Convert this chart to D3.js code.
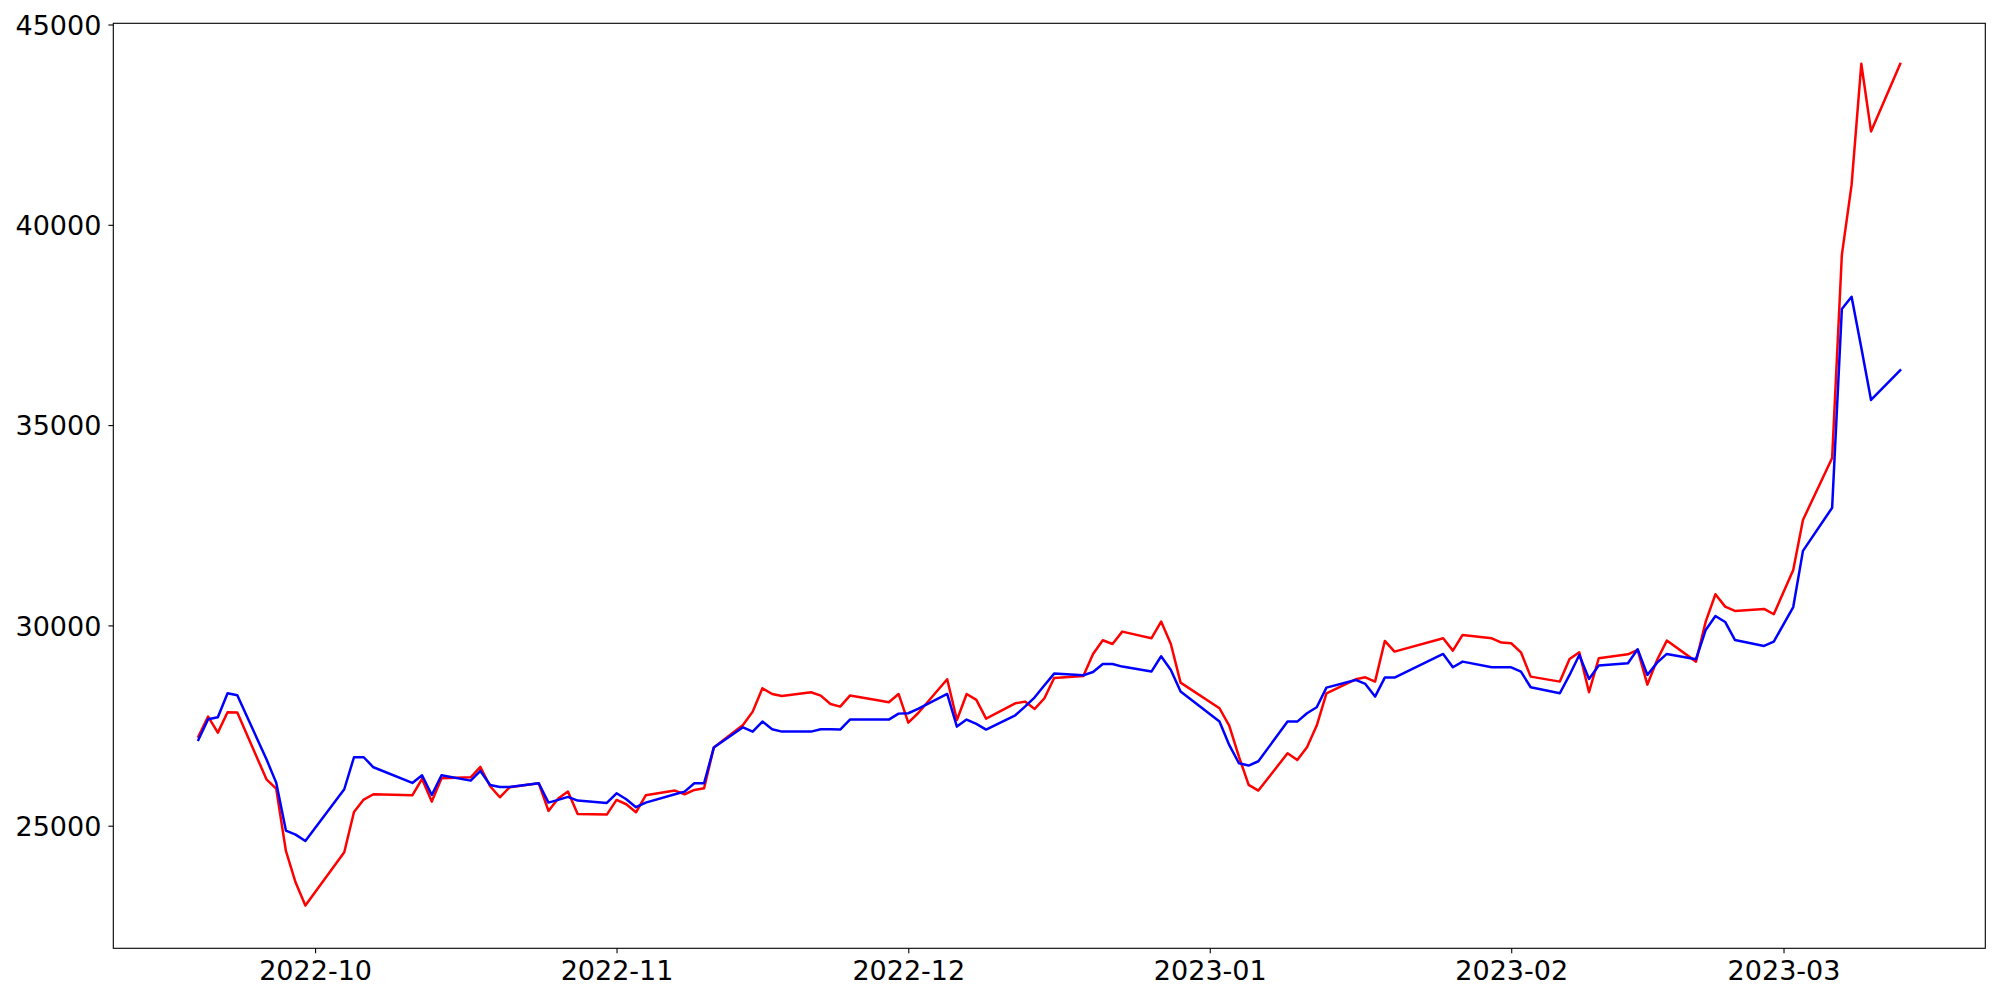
<!DOCTYPE html>
<html>
<head>
<meta charset="utf-8">
<script src="https://cdn.jsdelivr.net/npm/d3@7"></script>
<style>
  body { margin: 0; background: #fff; }
  svg text { font-family: "DejaVu Sans", sans-serif; }
</style>
</head>
<body>
<svg id="chart" width="2000" height="1000"></svg>
<script>
// trading days (Korean calendar, holidays skipped)
var dates = [
  "2022-09-19","2022-09-20","2022-09-21","2022-09-22","2022-09-23",
  "2022-09-26","2022-09-27","2022-09-28","2022-09-29","2022-09-30",
  "2022-10-04","2022-10-05","2022-10-06","2022-10-07",
  "2022-10-11","2022-10-12","2022-10-13","2022-10-14",
  "2022-10-17","2022-10-18","2022-10-19","2022-10-20","2022-10-21",
  "2022-10-24","2022-10-25","2022-10-26","2022-10-27","2022-10-28",
  "2022-10-31","2022-11-01","2022-11-02","2022-11-03","2022-11-04",
  "2022-11-07","2022-11-08","2022-11-09","2022-11-10","2022-11-11",
  "2022-11-14","2022-11-15","2022-11-16","2022-11-17","2022-11-18",
  "2022-11-21","2022-11-22","2022-11-23","2022-11-24","2022-11-25",
  "2022-11-28","2022-11-29","2022-11-30","2022-12-01","2022-12-02",
  "2022-12-05","2022-12-06","2022-12-07","2022-12-08","2022-12-09",
  "2022-12-12","2022-12-13","2022-12-14","2022-12-15","2022-12-16",
  "2022-12-19","2022-12-20","2022-12-21","2022-12-22","2022-12-23",
  "2022-12-26","2022-12-27","2022-12-28","2022-12-29",
  "2023-01-02","2023-01-03","2023-01-04","2023-01-05","2023-01-06",
  "2023-01-09","2023-01-10","2023-01-11","2023-01-12","2023-01-13",
  "2023-01-16","2023-01-17","2023-01-18","2023-01-19","2023-01-20",
  "2023-01-25","2023-01-26","2023-01-27",
  "2023-01-30","2023-01-31","2023-02-01","2023-02-02","2023-02-03",
  "2023-02-06","2023-02-07","2023-02-08","2023-02-09","2023-02-10",
  "2023-02-13","2023-02-14","2023-02-15","2023-02-16","2023-02-17",
  "2023-02-20","2023-02-21","2023-02-22","2023-02-23","2023-02-24",
  "2023-02-27","2023-02-28","2023-03-02","2023-03-03",
  "2023-03-06","2023-03-07","2023-03-08","2023-03-09","2023-03-10",
  "2023-03-13"
];

var redValues = [
  27224,27724,27324,27832,27823, 26159,25926,24370,23580,23006,
  24337,25344,25652,25785, 25760,26168,25602,26184,
  26209,26467,25985,25710,25960, 26060,25369,25677,25852,25294,
  25278,25644,25536,25336,25760, 25877,25785,25893,25935,26950,
  27516,27848,28431,28289,28239, 28331,28248,28040,27973,28248,
  28123,28081,28289,27574,27807, 28655,27640,28289,28140,27674,
  28056,28098,27915,28181,28689, 28739,29288,29629,29537,29845,
  29679,30095,29537,28572,
  27932,27499,26725,26018,25877, 26808,26642,26958,27499,28306,
  28655,28705,28597,29612,29346, 29679,29371,29762,
  29679,29571,29554,29329,28722, 28597,29163,29329,28331,29180,
  29279,29388,28522,29138,29621, 29096,30095,30777,30469,30361,
  30411,30278,31384,32633,
  34178,39251,40996,44019,42331, 44019
];

var blueValues = [
  27141,27657,27707,28306,28256, 26659,26076,24878,24778,24620,
  25910,26709,26709,26459, 26068,26259,25768,26259,
  26126,26367,26018,25968,25968, 26060,25577,25644,25719,25627,
  25569,25810,25660,25461,25577, 25785,25852,26060,26060,26950,
  27457,27349,27599,27407,27349, 27349,27407,27407,27399,27649,
  27649,27649,27798,27807,27915, 28289,27474,27649,27541,27399,
  27757,27973,28206,28506,28797, 28755,28838,29038,29038,28972,
  28847,29230,28888,28348,
  27599,27016,26559,26501,26609, 27599,27599,27807,27957,28447,
  28639,28539,28223,28697,28697, 29288,28955,29096,
  28955,28955,28955,28847,28456, 28306,28764,29263,28664,28997,
  29055,29404,28764,29071,29288, 29155,29887,30236,30086,29637,
  29487,29596,30459,31860,
  32938,37897,38202,36933,35627, 36371
];

var yTicks = [25000, 30000, 35000, 40000, 45000];
var yDomain = [21940, 45030];

var margin = {left: 113.3, top: 23.3, right: 14.7, bottom: 51.7};
var width = 2000 - margin.left - margin.right;
var height = 1000 - margin.top - margin.bottom;

var parse = d3.utcParse("%Y-%m-%d");
var days = dates.map(parse);

// 5% padding on the time axis, like the default autoscale
var ext = d3.extent(days);
var pad = (ext[1] - ext[0]) * 0.05;
var x = d3.scaleUtc()
    .domain([new Date(+ext[0] - pad), new Date(+ext[1] + pad)])
    .range([0, width]);

var y = d3.scaleLinear()
    .domain(yDomain)
    .range([height, 0]);

var svg = d3.select("#chart");
var g = svg.append("g")
    .attr("transform", "translate(" + margin.left + "," + margin.top + ")");

var line = function (vals) {
    return d3.line()
        .x(function (d, i) { return x(days[i]); })
        .y(function (d) { return y(d); })(vals);
};

g.append("path")
    .attr("d", line(redValues))
    .attr("fill", "none")
    .attr("stroke", "#ff0000")
    .attr("stroke-width", 2.5)
    .attr("stroke-linejoin", "round")
    .attr("stroke-linecap", "square");

g.append("path")
    .attr("d", line(blueValues))
    .attr("fill", "none")
    .attr("stroke", "#0000ff")
    .attr("stroke-width", 2.5)
    .attr("stroke-linejoin", "round")
    .attr("stroke-linecap", "square");

// axes
var xAxis = d3.axisBottom(x)
    .ticks(d3.utcMonth.every(1))
    .tickFormat(d3.utcFormat("%Y-%m"))
    .tickSizeInner(4.9).tickSizeOuter(0).tickPadding(4.9);

var yAxis = d3.axisLeft(y)
    .tickValues(yTicks)
    .tickFormat(d3.format("d"))
    .tickSizeInner(4.9).tickSizeOuter(0).tickPadding(7);

var gx = g.append("g")
    .attr("transform", "translate(0," + height + ")")
    .call(xAxis);
var gy = g.append("g").call(yAxis);

[gx, gy].forEach(function (ax) {
    ax.select(".domain").remove();
    ax.selectAll(".tick line").attr("stroke", "#000").attr("stroke-width", 1.1);
    ax.selectAll(".tick text")
        .attr("fill", "#000")
        .style("font-size", "27px");
});
gx.selectAll(".tick text").attr("dy", "0.82em");
gy.selectAll(".tick text").attr("dy", "0.36em");

// frame
g.append("rect")
    .attr("x", 0).attr("y", 0)
    .attr("width", width).attr("height", height)
    .attr("fill", "none")
    .attr("stroke", "#000")
    .attr("stroke-width", 1.1);
</script>
</body>
</html>
